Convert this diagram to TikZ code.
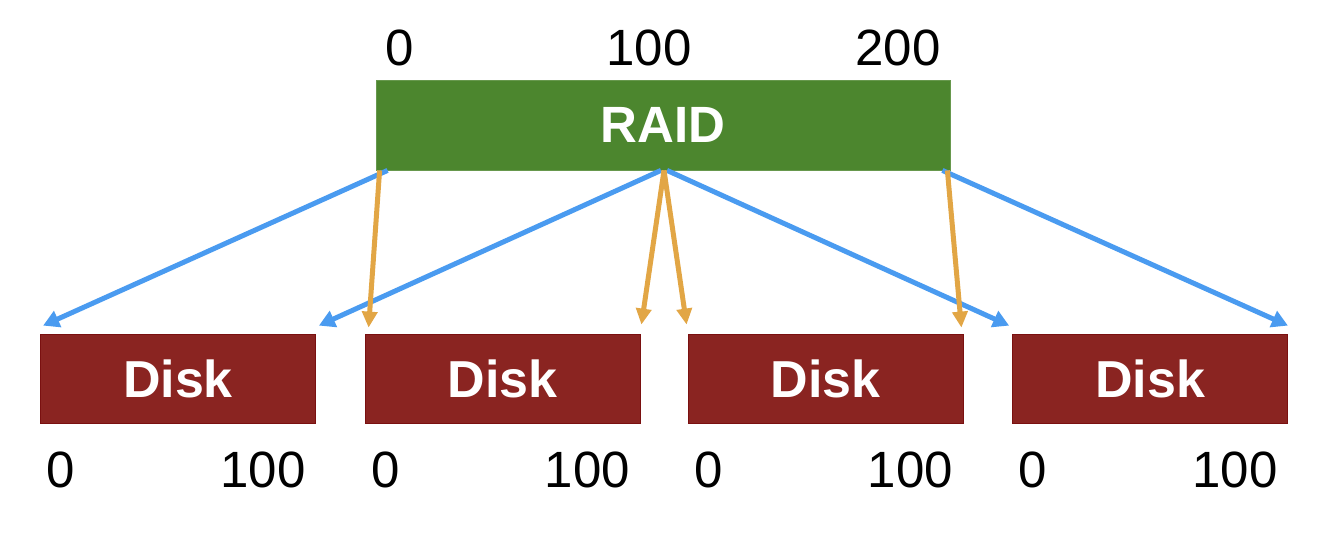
\documentclass[tikz,border=0pt]{standalone}
\usepackage{fontspec}
\setmainfont{Liberation Sans}
\usetikzlibrary{arrows.meta,calc}
\definecolor{raidgreen}{HTML}{4C862E}
\definecolor{diskred}{HTML}{8A2421}
\definecolor{diskedge}{HTML}{7A1010}
\definecolor{arrblue}{HTML}{4A9BF0}
\definecolor{arrorange}{HTML}{E2A645}
\begin{document}
\begin{tikzpicture}[x=1pt,y=-1pt,
  lbl/.style={inner sep=0pt,font=\fontsize{51}{60}\selectfont,text=black},
  raidbox/.style={fill=raidgreen,draw=raidgreen!85!white,line width=0.8pt,minimum width=574pt,minimum height=90pt,inner sep=0pt,text=white,font=\fontsize{51}{60}\selectfont\bfseries},
  diskbox/.style={fill=diskred,draw=diskedge,line width=0.8pt,minimum width=275pt,minimum height=89pt,inner sep=0pt,text=white,font=\fontsize{52}{60}\selectfont\bfseries},
  bluearr/.style={draw=arrblue,line width=5pt,-{Triangle[length=16pt,width=17pt]}},
  orangearr/.style={draw=arrorange,line width=5pt,-{Triangle[length=16pt,width=15pt]}}]
\useasboundingbox (0,0) rectangle (1328,538);

\node[raidbox] (raid) at (663,125) {RAID};
\node[diskbox] (d1) at (178,378.5) {Disk};
\node[diskbox] (d2) at (502.5,378.5) {Disk};
\node[diskbox] (d3) at (825.5,378.5) {Disk};
\node[diskbox] (d4) at (1150,378.5) {Disk};

\node[lbl,anchor=base] (t0) at (400,65) {0};
\node[lbl,anchor=base] (t1) at (649,65) {100};
\node[lbl,anchor=base] (t2) at (898,65) {200};

\foreach \d in {d1,d2,d3,d4}{
  \node[lbl,anchor=base] (\d z) at ($(\d.south west)+(21,64)$) {0};
  \node[lbl,anchor=base] (\d h) at ($(\d.south east)+(-53,64)$) {100};
}

% blue arrows
\draw[bluearr] ([xshift=12pt]raid.south west) -- ([xshift=3pt,yshift=8pt]d1.north west);
\draw[bluearr] ([xshift=-2pt]raid.south) -- ([xshift=3pt,yshift=8pt]d1.north east);
\draw[bluearr] ([xshift=4pt]raid.south) -- ([xshift=-3pt,yshift=8pt]d4.north west);
\draw[bluearr] ([xshift=-8pt]raid.south east) -- ([xshift=0pt,yshift=8pt]d4.north east);

% orange arrows
\draw[orangearr] ([xshift=4pt]raid.south west) -- ([xshift=4pt,yshift=6pt]d2.north west);
\draw[orangearr] ([xshift=1pt]raid.south) -- ([xshift=1pt,yshift=9pt]d2.north east);
\draw[orangearr] ([xshift=1pt]raid.south) -- ([xshift=-1pt,yshift=9pt]d3.north west);
\draw[orangearr] ([xshift=-3pt]raid.south east) -- ([xshift=-2pt,yshift=6pt]d3.north east);
\end{tikzpicture}
\end{document}
